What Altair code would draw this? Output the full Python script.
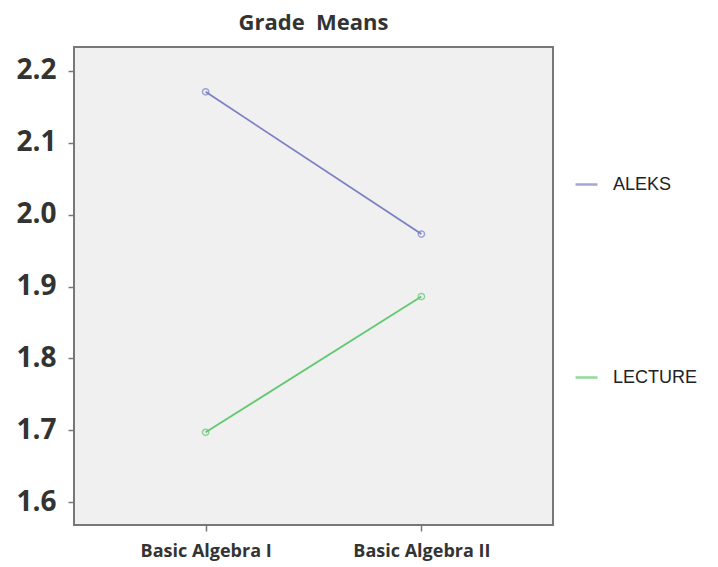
import altair as alt
import pandas as pd

courses = ["Basic Algebra I", "Basic Algebra II"]
aleks = [2.171, 1.973]
lecture = [1.697, 1.886]
groups = ["ALEKS", "LECTURE"]
y_ticks = [1.6, 1.7, 1.8, 1.9, 2.0, 2.1, 2.2]

rows = []
for c, a, l in zip(courses, aleks, lecture):
    rows.append({"course": c, "group": "ALEKS", "mean": a})
    rows.append({"course": c, "group": "LECTURE", "mean": l})
df = pd.DataFrame(rows)

color = alt.Color(
    "group:N",
    scale=alt.Scale(domain=groups, range=["#7b80c6", "#62c872"]),
    legend=alt.Legend(
        title=None,
        orient="none",
        legendX=500,
        legendY=125,
        symbolType="stroke",
        symbolSize=480,
        symbolStrokeWidth=2.5,
        labelFont="Liberation Sans Narrow, Liberation Sans, sans-serif",
        labelFontSize=18,
        labelColor="#222222",
        labelOffset=14,
        rowPadding=171,
    ),
)

x = alt.X(
    "course:N",
    sort=courses,
    scale=alt.Scale(type="point", padding=0.61),
    axis=alt.Axis(
        title=None,
        labelAngle=0,
        labelFont="Open Sans",
        labelFontWeight="bold",
        labelFontSize=18,
        labelColor="#333333",
        labelPadding=11,
        tickSize=6,
        tickColor="#777777",
        tickWidth=1.5,
        domain=False,
        grid=False,
    ),
)
y = alt.Y(
    "mean:Q",
    scale=alt.Scale(domain=[1.568, 2.2334], nice=False, zero=False),
    axis=alt.Axis(
        title=None,
        values=y_ticks,
        format=".1f",
        labelFont="Open Sans",
        labelFontWeight="bold",
        labelFontSize=28,
        labelColor="#333333",
        labelPadding=12,
        tickSize=6,
        tickColor="#777777",
        tickWidth=1.5,
        domain=False,
        grid=False,
    ),
)

lines = alt.Chart(df).mark_line(strokeWidth=1.8).encode(x=x, y=y, color=color)
points = alt.Chart(df).mark_point(size=40, filled=False, strokeWidth=1.5).encode(
    x=x, y=y, color=color
)

chart = (
    alt.layer(lines, points)
    .properties(
        width=479,
        height=478,
        title=alt.TitleParams(
            "Grade\u00a0\u00a0Means",
            font="Open Sans",
            fontWeight="bold",
            fontSize=22,
            color="#333333",
            offset=12,
        ),
        autosize=alt.AutoSizeParams(type="none"),
        padding={"left": 74, "top": 47, "right": 165, "bottom": 42},
        background="white",
    )
    .configure_view(fill="#f0f0f0", stroke="#777777", strokeWidth=2)
)

chart.save("out.html", embed_options={"renderer": "svg", "actions": False})
